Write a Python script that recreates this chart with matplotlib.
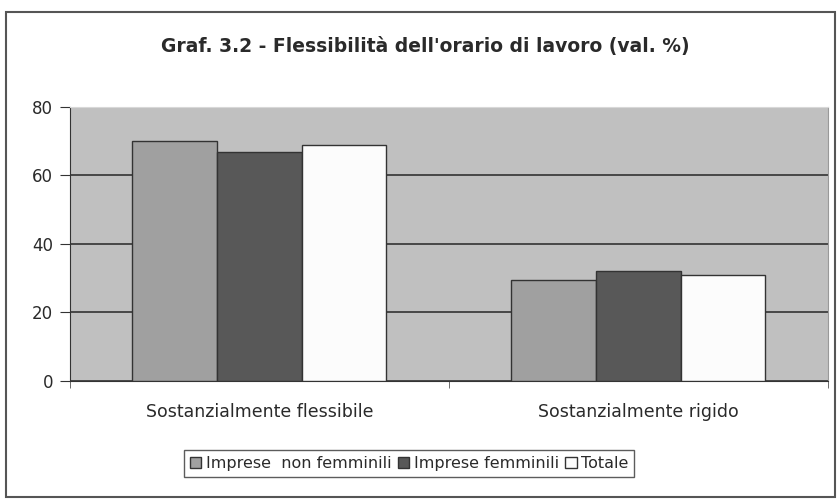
import matplotlib
matplotlib.use("Agg")
import matplotlib.pyplot as plt
import numpy as np
from matplotlib.patches import Rectangle

categories = ["Sostanzialmente flessibile", "Sostanzialmente rigido"]
series_names = ["Imprese  non femminili", "Imprese femminili", "Totale"]
non_femminili = [70, 29.5]
femminili = [67, 32]
totale = [69, 31]
yticks = [0, 20, 40, 60, 80]

colors = ["#a0a0a0", "#585858", "#fcfcfc"]

plt.rcParams["font.family"] = ["DejaVu Sans"]

fig = plt.figure(figsize=(8.39, 4.99), dpi=100)
fig.patches.append(Rectangle((0.007, 0.005), 0.988, 0.97, transform=fig.transFigure,
                             fill=False, edgecolor="#555555", linewidth=1.5))

ax = fig.add_axes([0.0834, 0.2365, 0.9031, 0.5491])
ax.set_facecolor("#c0c0c0")

x = np.arange(len(categories))
w = 0.2236
for i, vals in enumerate([non_femminili, femminili, totale]):
    ax.bar(x + (i - 1) * w, vals, width=w, color=colors[i], edgecolor="#333333",
           linewidth=1.0, label=series_names[i], zorder=3)

ax.set_xlim(-0.5, 1.5)
ax.set_ylim(0, 80)
ax.set_yticks(yticks)
ax.tick_params(axis="y", labelsize=12, length=7, direction="out", color="#333333",
               labelcolor="#2a2a2a", pad=5)
ax.yaxis.grid(True, color="#333333", linewidth=1.2, zorder=1)
ax.set_axisbelow(True)

ax.set_xticks(x)
ax.set_xticklabels(categories, fontsize=12.5, color="#2a2a2a")
ax.tick_params(axis="x", length=0, pad=16)
ax.set_xticks([-0.5, 0.5, 1.5], minor=True)
ax.tick_params(axis="x", which="minor", length=5, color="#555555")

ax.spines["left"].set_color("#333333")
ax.spines["bottom"].set_color("#333333")
ax.spines["top"].set_color("#d8d8d8")
ax.spines["right"].set_color("#999999")

fig.text(0.507, 0.907, "Graf. 3.2 - Flessibilità dell'orario di lavoro (val. %)",
         ha="center", va="center", fontsize=13.5, fontweight="bold", color="#2a2a2a")

leg = fig.legend(loc="center", bbox_to_anchor=(0.488, 0.071), ncol=3, fontsize=11.5,
                 frameon=True, fancybox=False, edgecolor="#333333",
                 handlelength=0.7, handleheight=0.7, handletextpad=0.3,
                 columnspacing=0.4, borderpad=0.35)
leg.get_frame().set_linewidth(1.0)
for text in leg.get_texts():
    text.set_color("#2a2a2a")

fig.savefig("out.png", dpi=100)
